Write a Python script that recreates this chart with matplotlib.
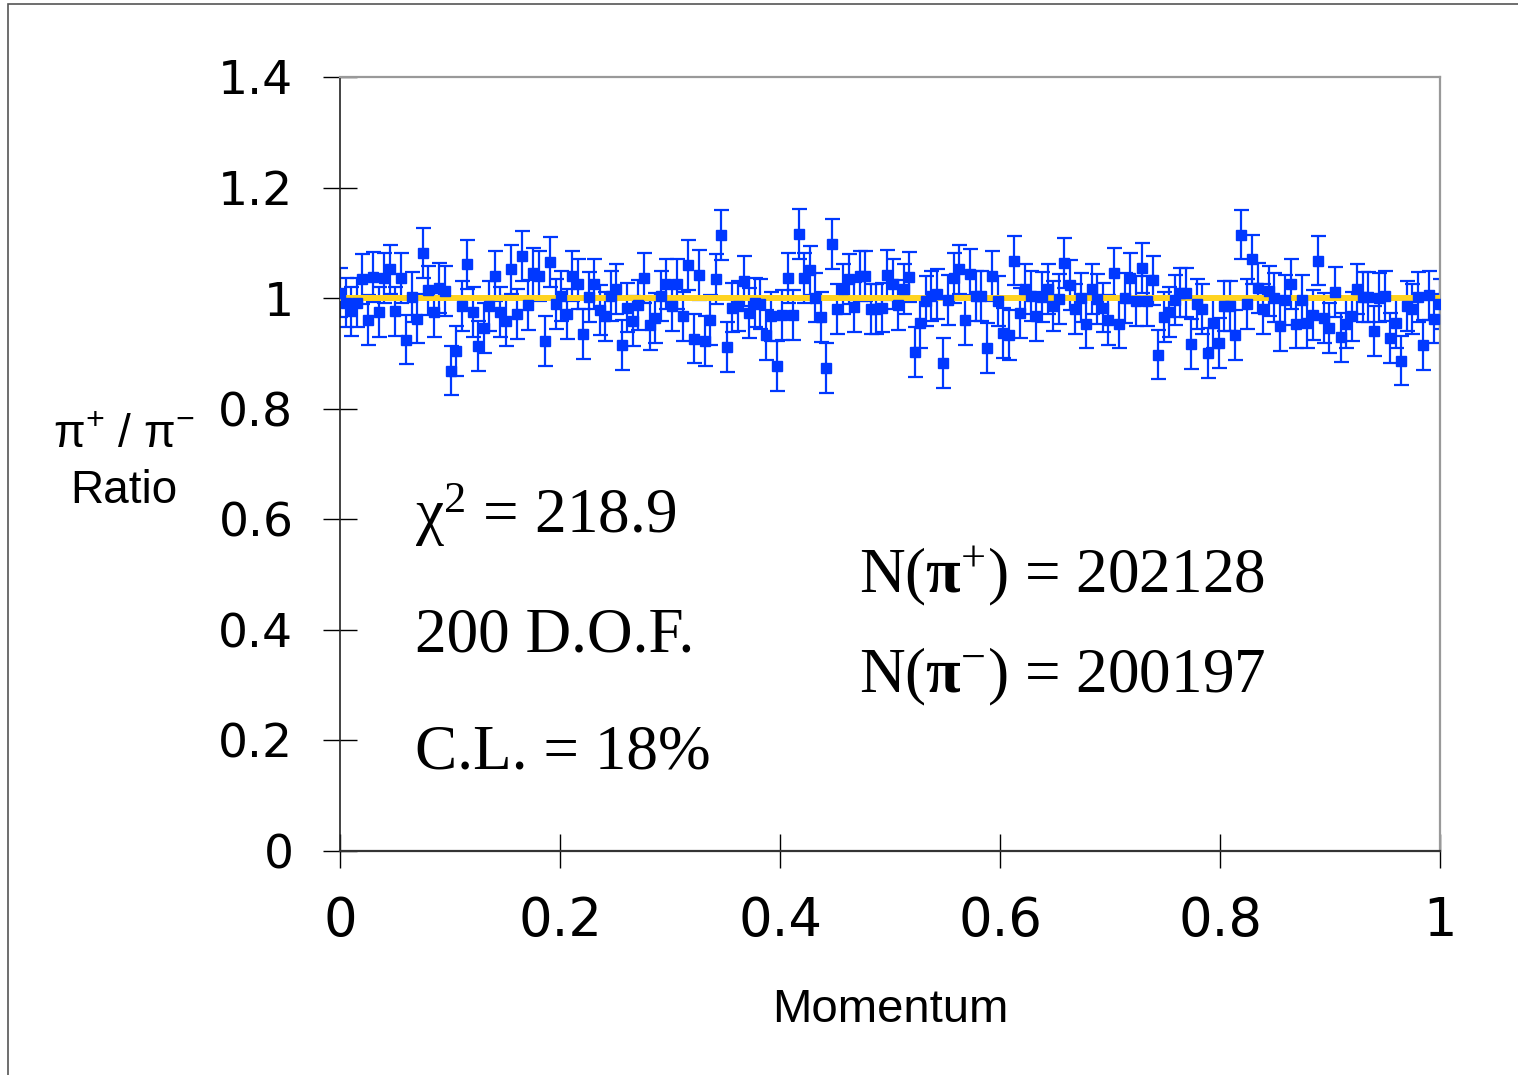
import numpy as np
from matplotlib import pyplot as plt
from matplotlib.patches import Rectangle

plt.rcParams['mathtext.default'] = 'regular'
plt.rcParams['mathtext.fontset'] = 'custom'
plt.rcParams['mathtext.rm'] = 'Liberation Serif'
plt.rcParams['mathtext.it'] = 'Liberation Serif:italic'
plt.rcParams['mathtext.bf'] = 'Liberation Serif:bold'

# pi+/pi- ratio per momentum bin (200 bins)
ratio_00_02 = [1.010, 0.992, 0.976, 0.992, 1.034, 0.960, 1.038, 0.975, 1.036, 1.052,
               0.976, 1.036, 0.925, 1.002, 0.963, 1.081, 1.014, 0.975, 1.019, 1.013,
               0.869, 0.904, 0.986, 1.061, 0.975, 0.913, 0.946, 0.986, 1.040, 0.975,
               0.958, 1.052, 0.972, 1.076, 0.987, 1.046, 1.040, 0.922, 1.066, 0.989]
ratio_02_04 = [1.004, 0.972, 1.040, 1.025, 0.935, 1.002, 1.025, 0.978, 0.967, 1.004,
               1.016, 0.915, 0.983, 0.958, 0.987, 1.036, 0.952, 0.964, 1.004, 1.026,
               0.986, 1.026, 0.967, 1.060, 0.927, 1.042, 0.922, 0.961, 1.034, 1.114,
               0.911, 0.983, 0.986, 1.031, 0.973, 0.992, 0.990, 0.934, 0.967, 0.877]
ratio_04_06 = [0.970, 1.037, 0.970, 1.116, 1.037, 1.050, 1.001, 0.966, 0.874, 1.098,
               0.981, 1.016, 1.034, 0.984, 1.040, 1.040, 0.980, 0.981, 0.983, 1.042,
               1.025, 0.987, 1.016, 1.038, 0.903, 0.955, 0.995, 1.004, 1.007, 0.883,
               0.996, 1.037, 1.052, 0.960, 1.044, 1.004, 1.004, 0.910, 1.040, 0.995]
ratio_06_08 = [0.937, 0.933, 1.068, 0.973, 1.016, 1.004, 0.967, 1.002, 1.016, 0.986,
               0.998, 1.064, 1.024, 0.981, 1.001, 0.954, 1.016, 0.998, 0.983, 0.961,
               1.046, 0.954, 1.000, 1.036, 0.995, 1.054, 0.995, 1.032, 0.898, 0.966,
               0.975, 0.996, 1.010, 1.010, 0.917, 0.990, 0.980, 0.901, 0.955, 0.919]
ratio_08_10 = [0.986, 0.986, 0.934, 1.115, 0.990, 1.070, 1.019, 0.981, 1.013, 1.001,
               0.949, 0.996, 1.025, 0.954, 0.996, 0.955, 0.969, 1.068, 0.964, 0.946,
               1.011, 0.929, 0.954, 0.967, 1.017, 1.002, 1.002, 0.940, 1.001, 1.004,
               0.928, 0.955, 0.887, 0.986, 0.981, 1.002, 0.915, 1.005, 0.963, 0.990]
ratio_err = 0.045
fit_value = 1.0

chi2_text = r'$\chi^{2}$ = 218.9'
dof_text = '200 D.O.F.'
cl_text = 'C.L. = 18%'
npos_text = r'N($\mathbf{\pi}^{+}$) = 202128'
nneg_text = r'N($\mathbf{\pi}^{-}$) = 200197'

x_ticks = [0, 0.2, 0.4, 0.6, 0.8, 1]
x_tick_labels = ['0', '0.2', '0.4', '0.6', '0.8', '1']
y_ticks = [0, 0.2, 0.4, 0.6, 0.8, 1, 1.2, 1.4]
y_tick_labels = ['0', '0.2', '0.4', '0.6', '0.8', '1', '1.2', '1.4']

ratio = np.array(ratio_00_02 + ratio_02_04 + ratio_04_06 + ratio_06_08 + ratio_08_10)
momentum = np.linspace(0, 1, len(ratio))

blue = '#0038FF'
W, H = 1518, 1075
fig = plt.figure(figsize=(W / 100, H / 100), dpi=100)
fig.patches.append(Rectangle((8 / W, -0.1), 1.2, 1.1 - 4 / H, transform=fig.transFigure,
                             fill=False, edgecolor='#555555', linewidth=1.2))
ax = fig.add_axes([340 / W, 1 - 851 / H, 1100 / W, 774 / H])

ax.errorbar(momentum, ratio, yerr=ratio_err, fmt='none', ecolor=blue,
            elinewidth=1.6, capsize=5.4, capthick=1.6, zorder=2)
ax.plot([0, 1], [fit_value, fit_value], color='#FFD320', linewidth=4.3,
        solid_capstyle='butt', zorder=3)
ax.plot(momentum, ratio, 's', color=blue, markersize=7.3, zorder=4)

ax.set_xlim(0, 1)
ax.set_ylim(0, 1.4)
ax.set_xticks(x_ticks)
ax.set_xticklabels(x_tick_labels, fontsize=38, family='DejaVu Sans')
ax.set_yticks(y_ticks)
ax.set_yticklabels(y_tick_labels, fontsize=34, family='DejaVu Sans')
ax.tick_params(axis='both', direction='inout', length=25, width=1, color='black')
ax.tick_params(axis='y', pad=21)
ax.tick_params(axis='x', pad=19)

for side in ['top', 'right']:
	ax.spines[side].set_color('#999999')
	ax.spines[side].set_linewidth(1.6)
ax.spines['left'].set_color('#222222')
ax.spines['left'].set_linewidth(1.2)
ax.spines['bottom'].set_color('#333333')
ax.spines['bottom'].set_linewidth(1.6)

ax.set_xlabel('Momentum', fontsize=34, family='Liberation Sans', va='baseline')
ax.xaxis.set_label_coords(0.5, (851 - 1022) / 774)

fig.text(124 / W, 1 - 448 / H, r'$\pi^{+}$ / $\pi^{-}$', ha='center', va='baseline',
         fontsize=33, family='Liberation Sans')
fig.text(124 / W, 1 - 503 / H, 'Ratio', ha='center', va='baseline',
         fontsize=33, family='Liberation Sans')

serif = dict(fontsize=45.5, family='Liberation Serif', va='baseline')
ax.text(0.068, 0.575, chi2_text, **serif)
ax.text(0.068, 0.36, dof_text, **serif)
ax.text(0.068, 0.15, cl_text, **serif)
ax.text(0.472, 0.468, npos_text, **serif)
ax.text(0.472, 0.286, nneg_text, **serif)

fig.savefig('out.png', dpi=100)
